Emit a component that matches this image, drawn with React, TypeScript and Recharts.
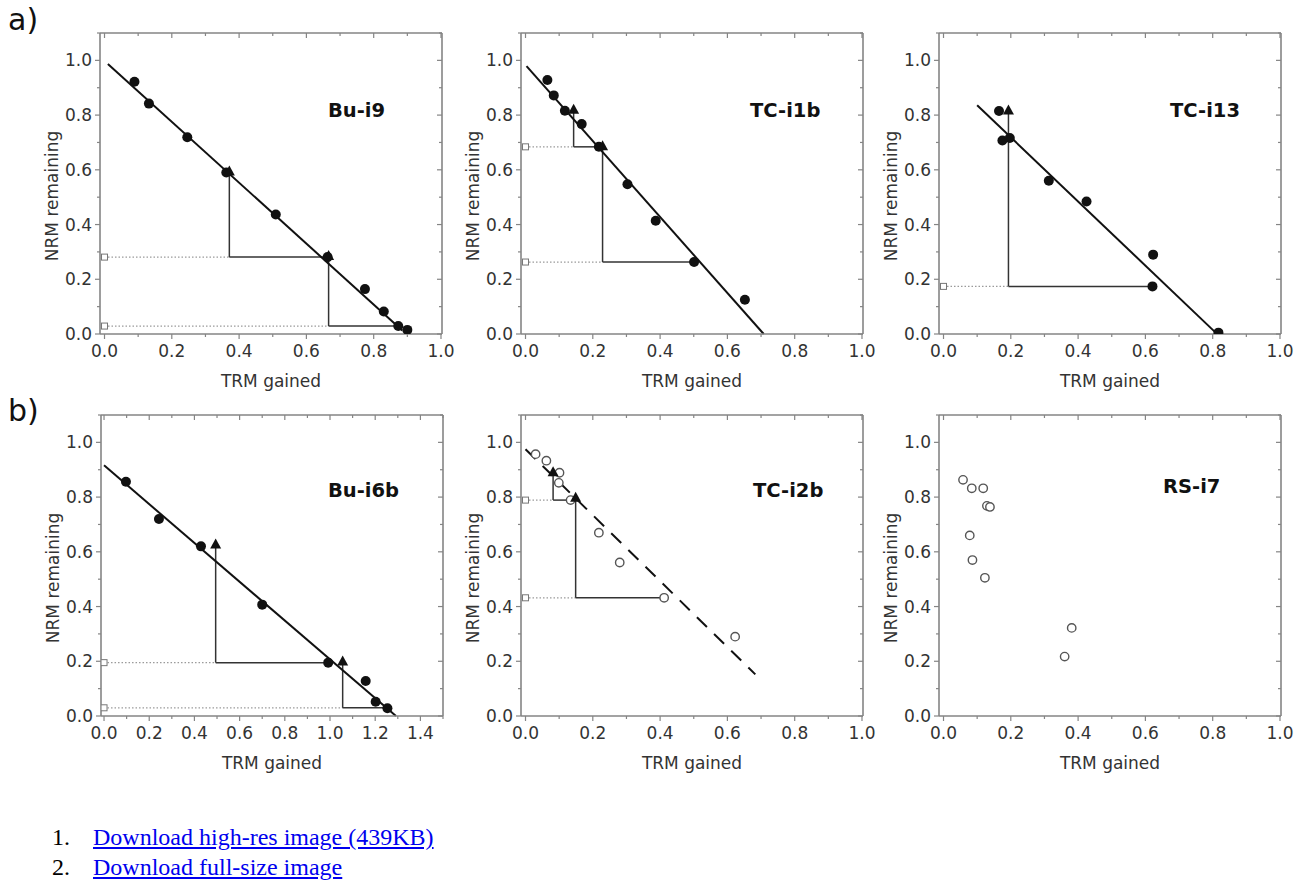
import React from "react";
import { ScatterChart, Scatter, XAxis, YAxis, ReferenceLine } from "recharts";

type XY = [number, number];
// [x, y of check, y of the step bottom, x where the step ends]
type Check = [number, number, number, number];

// tick values
const ticksTo1 = [0, 0.1, 0.2, 0.3, 0.4, 0.5, 0.6, 0.7, 0.8, 0.9, 1.0];
const ticksTo15 = [0, 0.1, 0.2, 0.3, 0.4, 0.5, 0.6, 0.7, 0.8, 0.9, 1.0, 1.1, 1.2, 1.3, 1.4, 1.5];
const yTicks = [0, 0.1, 0.2, 0.3, 0.4, 0.5, 0.6, 0.7, 0.8, 0.9, 1.0, 1.1];

// a) Bu-i9
const buI9Points: XY[] = [
  [0.089, 0.922], [0.132, 0.842], [0.246, 0.719], [0.362, 0.59], [0.509, 0.437],
  [0.663, 0.281], [0.774, 0.164], [0.83, 0.082], [0.873, 0.029], [0.9, 0.015],
];
const buI9Checks: Check[] = [[0.371, 0.592, 0.281, 0.663], [0.666, 0.283, 0.029, 0.873]];
const buI9Fit: XY[] = [[0.01, 0.987], [0.885, 0.013]];

// a) TC-i1b
const tcI1bPoints: XY[] = [
  [0.065, 0.928], [0.084, 0.872], [0.117, 0.816], [0.167, 0.767], [0.218, 0.684],
  [0.303, 0.547], [0.387, 0.414], [0.501, 0.263], [0.652, 0.125],
];
const tcI1bChecks: Check[] = [[0.143, 0.818, 0.684, 0.218], [0.229, 0.684, 0.263, 0.501]];
const tcI1bFit: XY[] = [[0.003, 0.979], [0.708, 0]];

// a) TC-i13
const tcI13Points: XY[] = [
  [0.165, 0.815], [0.175, 0.707], [0.197, 0.716], [0.313, 0.56], [0.425, 0.484],
  [0.623, 0.29], [0.621, 0.174], [0.817, 0.005],
];
const tcI13Checks: Check[] = [[0.193, 0.815, 0.174, 0.621]];
const tcI13Fit: XY[] = [[0.1, 0.836], [0.808, 0.006]];

// b) Bu-i6b
const buI6bPoints: XY[] = [
  [0.097, 0.856], [0.243, 0.72], [0.429, 0.62], [0.7, 0.407], [0.992, 0.195],
  [1.158, 0.128], [1.202, 0.052], [1.254, 0.028],
];
const buI6bChecks: Check[] = [[0.494, 0.625, 0.195, 0.992], [1.056, 0.197, 0.03, 1.254]];
const buI6bFit: XY[] = [[0, 0.916], [1.292, 0]];

// b) TC-i2b (open symbols, dashed fit)
const tcI2bPoints: XY[] = [
  [0.03, 0.957], [0.062, 0.933], [0.101, 0.889], [0.099, 0.852], [0.134, 0.789],
  [0.218, 0.67], [0.28, 0.561], [0.412, 0.432], [0.623, 0.29],
];
const tcI2bChecks: Check[] = [[0.082, 0.889, 0.789, 0.149], [0.149, 0.796, 0.432, 0.412]];
const tcI2bFit: XY[] = [[0, 0.975], [0.683, 0.152]];

// b) RS-i7 (open symbols, no fit)
const rsI7Points: XY[] = [
  [0.058, 0.863], [0.084, 0.832], [0.118, 0.832], [0.129, 0.768], [0.138, 0.764],
  [0.078, 0.66], [0.086, 0.57], [0.123, 0.505], [0.381, 0.322], [0.36, 0.217],
];

const PLOT_W = 342;
const PLOT_H = 301;
const ML = 70; // room for y axis
const MT = 10;
const MR = 24;
const PL = ML;
const PT = MT;
const PB = MT + PLOT_H;
const Y_MAX = 1.1;

const FRAME = "#858585";
const TEXT = "#333";
const FONT = "'DejaVu Sans', sans-serif";

interface Panel {
  name: string;
  left: number;
  top: number;
  xMax: number;
  xTicks: number[];
  points: XY[];
  open?: boolean;
  checks: Check[];
  fit?: XY[];
  dashed?: boolean;
  titleX: number;
  titleY: number;
}

const panels: Panel[] = [
  { name: "Bu-i9", left: 100, top: 33, xMax: 1.003, xTicks: ticksTo1, points: buI9Points, checks: buI9Checks, fit: buI9Fit, titleX: 228, titleY: 84 },
  { name: "TC-i1b", left: 521, top: 33, xMax: 1.003, xTicks: ticksTo1, points: tcI1bPoints, checks: tcI1bChecks, fit: tcI1bFit, titleX: 229, titleY: 84 },
  { name: "TC-i13", left: 939, top: 33, xMax: 1.003, xTicks: ticksTo1, points: tcI13Points, checks: tcI13Checks, fit: tcI13Fit, titleX: 231, titleY: 84 },
  { name: "Bu-i6b", left: 101, top: 415, xMax: 1.5, xTicks: ticksTo15, points: buI6bPoints, checks: buI6bChecks, fit: buI6bFit, titleX: 227, titleY: 82 },
  { name: "TC-i2b", left: 521, top: 415, xMax: 1.003, xTicks: ticksTo1, points: tcI2bPoints, open: true, checks: tcI2bChecks, fit: tcI2bFit, dashed: true, titleX: 232, titleY: 82 },
  { name: "RS-i7", left: 939, top: 415, xMax: 1.003, xTicks: ticksTo1, points: rsI7Points, open: true, checks: [], titleX: 224, titleY: 78 },
];

const isMajor = (v: number) => Math.round(v * 10) % 2 === 0;

const bottomTick = (props: any) => {
  const v = props.payload.value;
  const major = isMajor(v);
  return (
    <g>
      <line x1={props.x} x2={props.x} y1={PB} y2={PB + (major ? 5 : 3)} stroke={FRAME} strokeWidth={1.2} />
      {major && v < 1.45 && (
        <text x={props.x} y={PB + 23} textAnchor="middle" fontSize={17} fontFamily={FONT} fill={TEXT}>
          {v.toFixed(1)}
        </text>
      )}
    </g>
  );
};

const leftTick = (props: any) => {
  const v = props.payload.value;
  const major = isMajor(v);
  return (
    <g>
      <line x1={PL} x2={PL - (major ? 5 : 3)} y1={props.y} y2={props.y} stroke={FRAME} strokeWidth={1.2} />
      {major && v < 1.05 && (
        <text x={PL - 8} y={props.y + 6} textAnchor="end" fontSize={17} fontFamily={FONT} fill={TEXT}>
          {v.toFixed(1)}
        </text>
      )}
    </g>
  );
};

// inward ticks on the mirrored top edge, drawn from a vertical reference line
const topTickShape = (len: number) => (props: any) => {
  const top = Math.min(props.y1, props.y2);
  return <line x1={props.x1} x2={props.x1} y1={top} y2={top + len} stroke={FRAME} strokeWidth={1.2} />;
};
// inward ticks on the mirrored right edge, drawn from a horizontal reference line
const rightTickShape = (len: number) => (props: any) => {
  const right = Math.max(props.x1, props.x2);
  return <line x1={right} x2={right - len} y1={props.y1} y2={props.y1} stroke={FRAME} strokeWidth={1.2} />;
};

const dot = (props: any) => <circle cx={props.cx} cy={props.cy} r={5} fill="#111" />;
const ring = (props: any) => (
  <circle cx={props.cx} cy={props.cy} r={4.2} fill="#fff" stroke="#555" strokeWidth={1.4} />
);
const tri = (props: any) => (
  <path
    d={`M${props.cx},${props.cy - 6.5} L${props.cx + 5.5},${props.cy + 3.5} L${props.cx - 5.5},${props.cy + 3.5} Z`}
    fill="#111"
  />
);
const square = (props: any) => (
  <rect x={props.cx - 3} y={props.cy - 3} width={6} height={6} fill="#fff" stroke="#777" strokeWidth={1} />
);

function AraiPlot({ p }: { p: Panel }) {
  const pts = p.points.map(([x, y]) => ({ x, y }));
  const checkPts = p.checks.map(([x, y]) => ({ x, y }));
  const tails = p.checks.map(([, , low]) => ({ x: 0, y: low }));
  const xDomain: [number, number] = [-0.0134, p.xMax];
  const W = PLOT_W + ML + MR;
  const H = PLOT_H + MT + 60;

  return (
    <div style={{ position: "absolute", left: p.left - ML, top: p.top - MT }}>
      <ScatterChart width={W} height={H} margin={{ top: MT, right: MR, bottom: 0, left: 0 }}>
        <XAxis
          type="number"
          dataKey="x"
          domain={xDomain}
          allowDataOverflow
          ticks={p.xTicks}
          interval={0}
          height={60}
          tickSize={0}
          tickMargin={0}
          tickLine={false}
          axisLine={{ stroke: FRAME, strokeWidth: 1.6 }}
          tick={bottomTick}
          label={{
            content: () => (
              <text x={PL + PLOT_W / 2} y={PB + 53} textAnchor="middle" fontSize={17} fontFamily={FONT} fill={TEXT}>
                TRM gained
              </text>
            ),
          }}
        />
        <YAxis
          type="number"
          dataKey="y"
          domain={[0, Y_MAX]}
          allowDataOverflow
          ticks={yTicks}
          interval={0}
          width={ML}
          tickSize={0}
          tickMargin={0}
          tickLine={false}
          axisLine={{ stroke: FRAME, strokeWidth: 1.6 }}
          tick={leftTick}
          label={{
            content: () => (
              <text
                x={PL - 42}
                y={PT + 163}
                transform={`rotate(-90, ${PL - 42}, ${PT + 163})`}
                textAnchor="middle"
                fontSize={17}
                fontFamily={FONT}
                fill={TEXT}
              >
                NRM remaining
              </text>
            ),
          }}
        />

        {/* mirrored top and right edges of the frame, with inward ticks */}
        <ReferenceLine y={Y_MAX} stroke={FRAME} strokeWidth={1.6} />
        <ReferenceLine x={p.xMax} stroke={FRAME} strokeWidth={1.6} />
        {p.xTicks.map((v) => (
          <ReferenceLine key={`tx${v}`} x={v} shape={topTickShape(isMajor(v) ? 5 : 3)} />
        ))}
        {yTicks.map((v) => (
          <ReferenceLine key={`ty${v}`} y={v} shape={rightTickShape(isMajor(v) ? 5 : 3)} />
        ))}

        {p.checks.map(([x, , low], i) => (
          <ReferenceLine
            key={`dot${i}`}
            segment={[{ x: 0, y: low }, { x, y: low }]}
            stroke="#9a9a9a"
            strokeWidth={1.2}
            strokeDasharray="1.5 2"
          />
        ))}
        {p.checks.map(([x, y, low], i) => (
          <ReferenceLine key={`v${i}`} segment={[{ x, y }, { x, y: low }]} stroke="#333" strokeWidth={1.5} />
        ))}
        {p.checks.map(([x, , low, end], i) => (
          <ReferenceLine key={`h${i}`} segment={[{ x, y: low }, { x: end, y: low }]} stroke="#333" strokeWidth={1.5} />
        ))}
        {p.fit && (
          <ReferenceLine
            segment={[{ x: p.fit[0][0], y: p.fit[0][1] }, { x: p.fit[1][0], y: p.fit[1][1] }]}
            stroke="#111"
            strokeWidth={2}
            strokeDasharray={p.dashed ? "14 10" : undefined}
          />
        )}

        <Scatter data={tails} shape={square} isAnimationActive={false} />
        <Scatter data={pts} shape={p.open ? ring : dot} isAnimationActive={false} />
        <Scatter data={checkPts} shape={tri} isAnimationActive={false} />
      </ScatterChart>
      <div
        style={{
          position: "absolute",
          left: ML + p.titleX,
          top: MT + p.titleY - 16.5,
          fontFamily: FONT,
          fontSize: 19.5,
          fontWeight: "bold",
          lineHeight: 1,
          color: "#111",
          whiteSpace: "nowrap",
        }}
      >
        {p.name}
      </div>
    </div>
  );
}

export default function App() {
  return (
    <div style={{ position: "absolute", left: 0, top: 0, width: 1312, height: 881, background: "#fff" }}>
      <div style={{ position: "absolute", left: 8, top: 5, fontFamily: FONT, fontSize: 30, lineHeight: 1, color: "#111" }}>a)</div>
      <div style={{ position: "absolute", left: 8, top: 396, fontFamily: FONT, fontSize: 30, lineHeight: 1, color: "#111" }}>b)</div>
      {panels.map((p) => (
        <AraiPlot key={p.name} p={p} />
      ))}
      <div style={{ position: "absolute", left: 52, top: 822, fontFamily: "'Liberation Serif', serif", fontSize: 24, lineHeight: "30px" }}>
        <div>
          <span style={{ display: "inline-block", width: 41 }}>1.</span>
          <a href="#" style={{ color: "#0000ee" }}>Download high-res image (439KB)</a>
        </div>
        <div>
          <span style={{ display: "inline-block", width: 41 }}>2.</span>
          <a href="#" style={{ color: "#0000ee" }}>Download full-size image</a>
        </div>
      </div>
    </div>
  );
}
